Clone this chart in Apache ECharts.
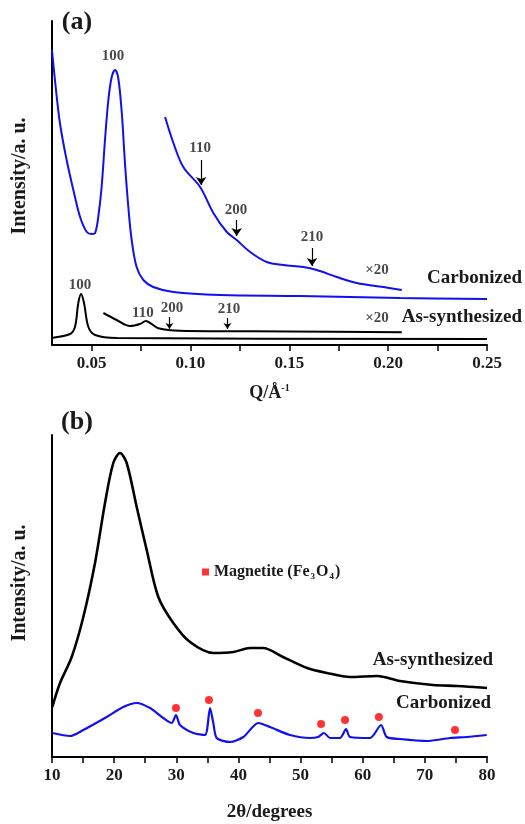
<!DOCTYPE html>
<html>
<head>
    <meta charset="utf-8">
    <title>SAXS / XRD</title>
    <script src="https://cdn.jsdelivr.net/npm/echarts@6/dist/echarts.min.js"></script>
    <style>
        html, body { margin: 0; padding: 0; background: #fff; }
    </style>
</head>
<body>
<div id="main" style="width:525px;height:824px;"></div>
<script type="text/javascript">
    // ---- panel (a): SAXS ----
    var saxsQCarbon = [0.0300,0.0315,0.0340,0.0374,0.0408,0.0442,0.0476,0.0501,0.0518,0.0534,0.0551,0.0568,0.0585,0.0602,0.0619,0.0635,0.0653,0.0669,0.0686,0.0703,0.0728,0.0762,0.0812,0.0914,0.115,0.1554,0.206,0.25];
    var saxsICarbon = [295,265,222,185,155,128,113,111,112,128,158,205,245,268,275,267,232,182,138,105,78,65,58,53,50,49,47,46];

    var saxsQCarbon20 = [0.0872,0.0914,0.0964,0.1049,0.1116,0.1184,0.1234,0.1302,0.1386,0.147,0.1571,0.1639,0.174,0.1841,0.1976,0.2069];
    var saxsICarbon20 = [228,202,178,158,132,113,105,93,83,80,78,75,68,62,58,55];

    var saxsQAs = [0.0300,0.0307,0.0391,0.0416,0.0433,0.0447,0.0462,0.0484,0.0518,0.0627,0.25];
    var saxsIAs = [7,7.3,11,18,42,51,42,18,10,7,6];

    var saxsQAs20 = [0.056,0.0627,0.0695,0.0745,0.0775,0.0804,0.0838,0.0947,0.15,0.2069];
    var saxsIAs20 = [32,25,19,21,24,21,16.7,14.3,13.5,12.7];

    // peak labels [Q, level, text] and arrows [Q, from, to]
    var peakLabelsA = [[0.0609,289,'100'],[0.1049,197,'110'],[0.1231,135,'200'],[0.1615,108,'210'],[0.1944,75,'×20'],
                       [0.0442,60,'100'],[0.076,32,'110'],[0.0907,37,'200'],[0.1195,36,'210'],[0.1944,27,'×20']];
    var arrowsA = [[0.1054,185,160],[0.1234,125,109],[0.1615,97,79]];
    var smallArrowsA = [[0.0894,28,16],[0.1187,27,16]];

    var qTicks = [0.05,0.075,0.1,0.125,0.15,0.175,0.2,0.225,0.25];
    var qLabels = [0.05,0.1,0.15,0.2,0.25];

    // ---- panel (b): XRD ----
    var xrdTAs = [10.05,11.29,13.17,15.04,16.92,18.53,19.86,20.94,22.02,23.63,25.24,27.11,29.52,32.21,35.96,39.18,41.86,43.96,47.17,51.04,54.25,57.96,62.3,66,71.31,75.18,80];
    var xrdIAs = [50,74,100,140,194,254,294,304,294,250,207,160,134,115,104,105,109,109,100,89,84,80,81,76,72,71,69];

    var xrdTCarbon = [10.05,12.9,15.04,18.8,21.47,23.63,25.77,27.91,29.26,29.95,30.6,32.74,34.62,35.43,35.96,36.5,38.65,40.79,43.2,45.08,48.3,51.52,52.8,53.77,54.74,56.35,57.32,57.96,61.18,62.95,63.86,66,70.3,74.05,76.74,79.95];
    var xrdICarbon = [24,21,27,40,50,54,49,39,34,42,32,24,22,49,34,19,15,20,34,30,22,19,20,24,19,19,28,20,19,32,20,18,16,19,20,22];

    var magnetiteT = [29.95,35.26,43.15,53.3,57.15,62.6,74.85];
    var magnetiteI = [49,57,44,33,37,40,27];

    var serif = '"Liberation Serif", "DejaVu Serif", serif';
    var ink = '#1a1a1a';
    var blue = '#1010f0';

    function zip(a, b) {
        var out = [];
        for (var i = 0; i < a.length; i++) out.push([a[i], b[i]]);
        return out;
    }

    var chart = echarts.init(document.getElementById('main'));

    var axisLineStyle = { color: '#000', width: 2 };
    var tickFont = { fontFamily: serif, fontWeight: 'bold', fontSize: 17, color: ink };

    var option = {
        animation: false,
        backgroundColor: '#fff',
        grid: [
            { left: 52, right: 38, top: 21, height: 324 },
            { left: 52, right: 38, top: 435, height: 322 }
        ],
        legend: {
            left: 197,
            top: 559,
            icon: 'rect',
            itemWidth: 7,
            itemHeight: 7,
            data: ['Magnetite'],
            formatter: function () {
                return '{t|Magnetite (Fe}{s|3}{t|O}{s|4}{t|)}';
            },
            textStyle: {
                rich: {
                    t: { fontFamily: serif, fontWeight: 'bold', fontSize: 16, color: ink },
                    s: { fontFamily: serif, fontWeight: 'bold', fontSize: 9, color: ink, padding: [10, 1, 0, 1] }
                }
            }
        },
        xAxis: [
            {
                gridIndex: 0, type: 'value', min: 0.03, max: 0.25,
                axisLine: { lineStyle: axisLineStyle },
                axisTick: { customValues: qTicks, length: 6, lineStyle: { color: '#000', width: 1.5 } },
                axisLabel: Object.assign({ customValues: qLabels, margin: 10,
                    formatter: function (v) { return v.toFixed(2); } }, tickFont),
                splitLine: { show: false },
                name: '{q|Q/Å}{sup|-1}',
                nameLocation: 'middle',
                nameGap: 38,
                nameTextStyle: {
                    rich: {
                        q: { fontFamily: serif, fontWeight: 'bold', fontSize: 18, color: ink },
                        sup: { fontFamily: serif, fontWeight: 'bold', fontSize: 10, color: ink, padding: [0, 0, 10, 0] }
                    }
                }
            },
            {
                gridIndex: 1, type: 'value', min: 10, max: 80, interval: 5,
                axisLine: { lineStyle: axisLineStyle },
                axisTick: { length: 6, lineStyle: { color: '#000', width: 1.5 } },
                axisLabel: Object.assign({ margin: 10,
                    formatter: function (v) { return v % 10 === 0 ? String(v) : ''; } }, tickFont),
                splitLine: { show: false },
                name: '2θ/degrees',
                nameLocation: 'middle',
                nameGap: 46,
                nameTextStyle: { fontFamily: serif, fontWeight: 'bold', fontSize: 19, color: ink }
            }
        ],
        yAxis: [
            {
                gridIndex: 0, type: 'value', min: 0, max: 324,
                axisLine: { show: true, lineStyle: axisLineStyle },
                axisTick: { show: false }, axisLabel: { show: false }, splitLine: { show: false },
                name: 'Intensity/a. u.', nameLocation: 'middle', nameGap: 22, nameRotate: 90,
                nameTextStyle: { fontFamily: serif, fontWeight: 'bold', fontSize: 20, color: ink, padding: [0, 0, 0, 14] }
            },
            {
                gridIndex: 1, type: 'value', min: 0, max: 322,
                axisLine: { show: true, lineStyle: axisLineStyle },
                axisTick: { show: false }, axisLabel: { show: false }, splitLine: { show: false },
                name: 'Intensity/a. u.', nameLocation: 'middle', nameGap: 22, nameRotate: 90,
                nameTextStyle: { fontFamily: serif, fontWeight: 'bold', fontSize: 20, color: ink, padding: [0, 0, 0, 26] }
            }
        ],
        series: [
            { name: 'Carbonized', type: 'line', xAxisIndex: 0, yAxisIndex: 0, data: zip(saxsQCarbon, saxsICarbon),
              smooth: 0.35, showSymbol: false, lineStyle: { color: blue, width: 2 } },
            { name: 'Carbonized x20', type: 'line', xAxisIndex: 0, yAxisIndex: 0, data: zip(saxsQCarbon20, saxsICarbon20),
              smooth: 0.35, showSymbol: false, lineStyle: { color: blue, width: 2 } },
            { name: 'As-synthesized', type: 'line', xAxisIndex: 0, yAxisIndex: 0, data: zip(saxsQAs, saxsIAs),
              smooth: 0.35, showSymbol: false, lineStyle: { color: '#000', width: 2 } },
            { name: 'As-synthesized x20', type: 'line', xAxisIndex: 0, yAxisIndex: 0, data: zip(saxsQAs20, saxsIAs20),
              smooth: 0.35, showSymbol: false, lineStyle: { color: '#000', width: 2 } },
            {
                name: 'peak labels', type: 'scatter', xAxisIndex: 0, yAxisIndex: 0, symbolSize: 0,
                data: peakLabelsA.map(function (p) { return { value: [p[0], p[1]], label: { formatter: p[2] } }; }),
                label: { show: true, position: 'inside', fontFamily: serif, fontWeight: 'bold', fontSize: 15, color: ink },
                markLine: {
                    silent: true, symbol: ['none', 'arrow'], symbolSize: 8, label: { show: false },
                    lineStyle: { color: '#000', width: 1.2, type: 'solid' },
                    data: arrowsA.map(function (a) {
                            return [{ coord: [a[0], a[1]], symbol: 'none' }, { coord: [a[0], a[2]], symbol: 'arrow', symbolSize: 8 }];
                        })
                        .concat(smallArrowsA.map(function (a) {
                            return [{ coord: [a[0], a[1]], symbol: 'none' }, { coord: [a[0], a[2]], symbol: 'arrow', symbolSize: 6 }];
                        }))
                }
            },
            { name: 'As-synthesized XRD', type: 'line', xAxisIndex: 1, yAxisIndex: 1, data: zip(xrdTAs, xrdIAs),
              smooth: 0.3, showSymbol: false, lineStyle: { color: '#000', width: 2.6 } },
            { name: 'Carbonized XRD', type: 'line', xAxisIndex: 1, yAxisIndex: 1, data: zip(xrdTCarbon, xrdICarbon),
              smooth: 0.25, showSymbol: false, lineStyle: { color: blue, width: 2.2 } },
            { name: 'Magnetite', type: 'scatter', xAxisIndex: 1, yAxisIndex: 1, data: zip(magnetiteT, magnetiteI),
              symbol: 'circle', symbolSize: 8, itemStyle: { color: '#ff0000' } }
        ],
        graphic: [
            { type: 'text', x: 77, y: 22, style: { text: '(a)', font: 'bold 26px ' + serif, fill: ink, textAlign: 'center', textVerticalAlign: 'middle' } },
            { type: 'text', x: 77, y: 422, style: { text: '(b)', font: 'bold 26px ' + serif, fill: ink, textAlign: 'center', textVerticalAlign: 'middle' } },
            { type: 'text', x: 522, y: 278, style: { text: 'Carbonized', font: 'bold 19px ' + serif, fill: ink, textAlign: 'right', textVerticalAlign: 'middle' } },
            { type: 'text', x: 522, y: 317, style: { text: 'As-synthesized', font: 'bold 19px ' + serif, fill: ink, textAlign: 'right', textVerticalAlign: 'middle' } },
            { type: 'text', x: 493, y: 660, style: { text: 'As-synthesized', font: 'bold 19px ' + serif, fill: ink, textAlign: 'right', textVerticalAlign: 'middle' } },
            { type: 'text', x: 491, y: 703, style: { text: 'Carbonized', font: 'bold 19px ' + serif, fill: ink, textAlign: 'right', textVerticalAlign: 'middle' } }
        ]
    };
    chart.setOption(option);
</script>
</body>
</html>
